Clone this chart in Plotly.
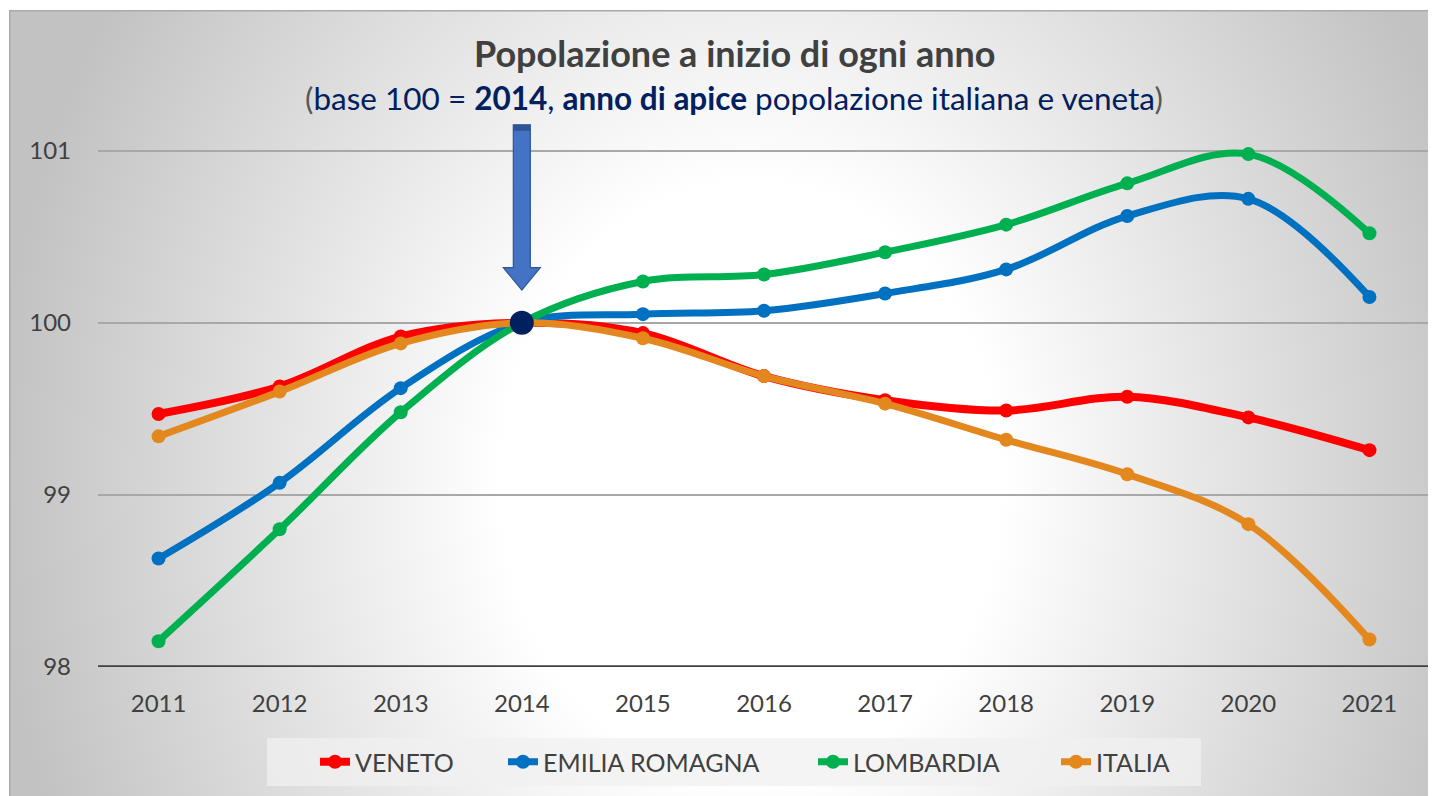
import base64
import plotly.graph_objects as go

# ---------------- data ----------------
YEARS = ["2011", "2012", "2013", "2014", "2015", "2016", "2017", "2018", "2019", "2020", "2021"]
VENETO = [99.47, 99.63, 99.92, 100.0, 99.94, 99.69, 99.55, 99.49, 99.57, 99.45, 99.26]
EMILIA_ROMAGNA = [98.63, 99.07, 99.62, 100.0, 100.05, 100.07, 100.17, 100.31, 100.62, 100.72, 100.15]
LOMBARDIA = [98.15, 98.80, 99.48, 100.0, 100.24, 100.28, 100.41, 100.57, 100.81, 100.98, 100.52]
ITALIA = [99.34, 99.60, 99.88, 100.0, 99.91, 99.69, 99.53, 99.32, 99.12, 98.83, 98.16]
SERIES_NAMES = ["VENETO", "EMILIA ROMAGNA", "LOMBARDIA", "ITALIA"]
BASE_YEAR = "2014"
BASE_VALUE = 100
Y_TICKS = [98, 99, 100, 101]

TITLE = "Popolazione a inizio di ogni anno"
SUBTITLE = ("<span style='color:#595959'>(</span>base 100 = <b>2014</b>, <b>anno di apice</b> "
            "popolazione italiana e veneta<span style='color:#595959'>)</span>")

COLORS = ["#FF0000", "#0070C0", "#00B050", "#E3871F"]
WIDTHS = [8, 7, 7, 7]
FONT = "Lato"
TXT = "#404040"

# ---------------- geometry (page pixels -> paper); page body has 8px margin ----------------
OFF = 8
W, H = 1428, 788
ML, MR, MT, MB = 90, 6, 91, 129
PW, PH = W - ML - MR, H - MT - MB


def px(x):
    return (x - OFF - ML) / PW


def py(y):
    return (H - MB - (y - OFF)) / PH


fig = go.Figure()
values = [VENETO, EMILIA_ROMAGNA, LOMBARDIA, ITALIA]
legend_ids = ["legend", "legend2", "legend3", "legend4"]
for name, vals, col, w, lg in zip(SERIES_NAMES, values, COLORS, WIDTHS, legend_ids):
    fig.add_trace(go.Scatter(
        x=YEARS, y=vals, name=name, mode="lines+markers",
        line=dict(color=col, width=w, shape="spline", smoothing=1.0),
        marker=dict(color=col, size=14),
        legend=lg,
        hoverinfo="x+y+name",
    ))

fig.add_trace(go.Scatter(
    x=[BASE_YEAR], y=[BASE_VALUE], mode="markers", showlegend=False,
    marker=dict(color="#002060", size=24), hoverinfo="skip",
))

# ---------------- background (radial gradient) ----------------
bx0, by0, bx1, by1 = 9, 10, 1436, 796
bw, bh = bx1 - bx0, by1 - by0
svg = f"""<svg xmlns='http://www.w3.org/2000/svg' width='{bw}' height='{bh}' viewBox='0 0 {bw} {bh}'>
<defs><radialGradient id='g' gradientUnits='userSpaceOnUse' cx='0' cy='0' r='1'
 gradientTransform='translate({bw*0.52:.1f},{bh*0.6:.1f}) scale({bw*0.53:.1f},{bh*1.15:.1f})'>
<stop offset='0' stop-color='#ffffff'/><stop offset='0.33' stop-color='#ffffff'/>
<stop offset='1' stop-color='#c2c2c2'/></radialGradient></defs>
<rect x='0' y='0' width='{bw}' height='{bh}' fill='url(#g)'/>
<rect x='0.75' y='0.75' width='{bw}' height='{bh}' fill='none' stroke='#a9a9a9' stroke-width='1.5'/>
</svg>"""
src = "data:image/svg+xml;base64," + base64.b64encode(svg.encode()).decode()
fig.add_layout_image(dict(
    source=src, xref="paper", yref="paper", x=px(bx0), y=py(by0),
    sizex=bw / PW, sizey=bh / PH, xanchor="left", yanchor="top",
    sizing="stretch", layer="below",
))

# ---------------- arrow pointing at base year ----------------
n = len(YEARS)
idx = YEARS.index(BASE_YEAR)
cx = (idx + 0.5) / n
sh = 8.5 / PW
hh = 18.5 / PW
y_top, y_head, y_tip = 101.15, 100.32, 100.19
path = (f"M {cx-sh} {y_top} L {cx+sh} {y_top} L {cx+sh} {y_head} L {cx+hh} {y_head} "
        f"L {cx} {y_tip} L {cx-hh} {y_head} L {cx-sh} {y_head} Z")
fig.add_shape(type="path", path=path, xref="paper", yref="y",
              fillcolor="#4472C4", line=dict(color="#2F5597", width=1.2), layer="above")
fig.add_shape(type="rect", xref="paper", yref="y", x0=cx - sh, x1=cx + sh,
              y0=y_top - 0.035, y1=y_top, fillcolor="#2F5597", line=dict(width=0), layer="above")

# ---------------- legend box ----------------
fig.add_shape(type="rect", xref="paper", yref="paper",
              x0=px(267), x1=px(1201), y0=py(786), y1=py(738),
              fillcolor="rgba(240,240,240,0.75)", line=dict(width=0), layer="below")

legend_text_x = [358, 546, 856, 1099]
layout_legends = {}
for lg, lx in zip(legend_ids, legend_text_x):
    layout_legends[lg] = dict(
        x=px(lx - 43), y=py(762), xanchor="left", yanchor="middle", orientation="h",
        bgcolor="rgba(0,0,0,0)", font=dict(family=FONT, size=25, color=TXT),
        itemwidth=30,
    )

# ---------------- titles ----------------
fig.add_annotation(text=f"<b>{TITLE}</b>", xref="paper", yref="paper", x=px(734), y=py(53),
                   showarrow=False, xanchor="center", yanchor="middle",
                   font=dict(family=FONT, size=36, color=TXT))
fig.add_annotation(text=SUBTITLE, xref="paper", yref="paper", x=px(734), y=py(98),
                   showarrow=False, xanchor="center", yanchor="middle",
                   font=dict(family=FONT, size=31.5, color="#002060"))

fig.update_layout(
    width=W, height=H,
    margin=dict(l=ML, r=MR, t=MT, b=MB, autoexpand=False),
    paper_bgcolor="white", plot_bgcolor="rgba(0,0,0,0)",
    font=dict(family=FONT, color=TXT),
    showlegend=True,
    **layout_legends,
    xaxis=dict(type="category", range=[-0.5, n - 0.5], showgrid=False, showline=False,
               zeroline=False, ticks="", tickfont=dict(family=FONT, size=24, color=TXT),
               ticklabelstandoff=20, fixedrange=True, automargin=False),
    yaxis=dict(range=[98, 101.3], tickvals=Y_TICKS, showgrid=True, gridcolor="#a8a8a8",
               gridwidth=1.5, zeroline=False, showline=False, ticks="",
               tickfont=dict(family=FONT, size=24, color=TXT), ticklabelstandoff=26,
               fixedrange=True, automargin=False),
)
# axis baseline at the bottom of the value axis
fig.add_shape(type="line", xref="paper", yref="y", x0=0, x1=1, y0=Y_TICKS[0], y1=Y_TICKS[0],
              line=dict(color="#404040", width=3.5), layer="below")

fig.write_html("out.html")
